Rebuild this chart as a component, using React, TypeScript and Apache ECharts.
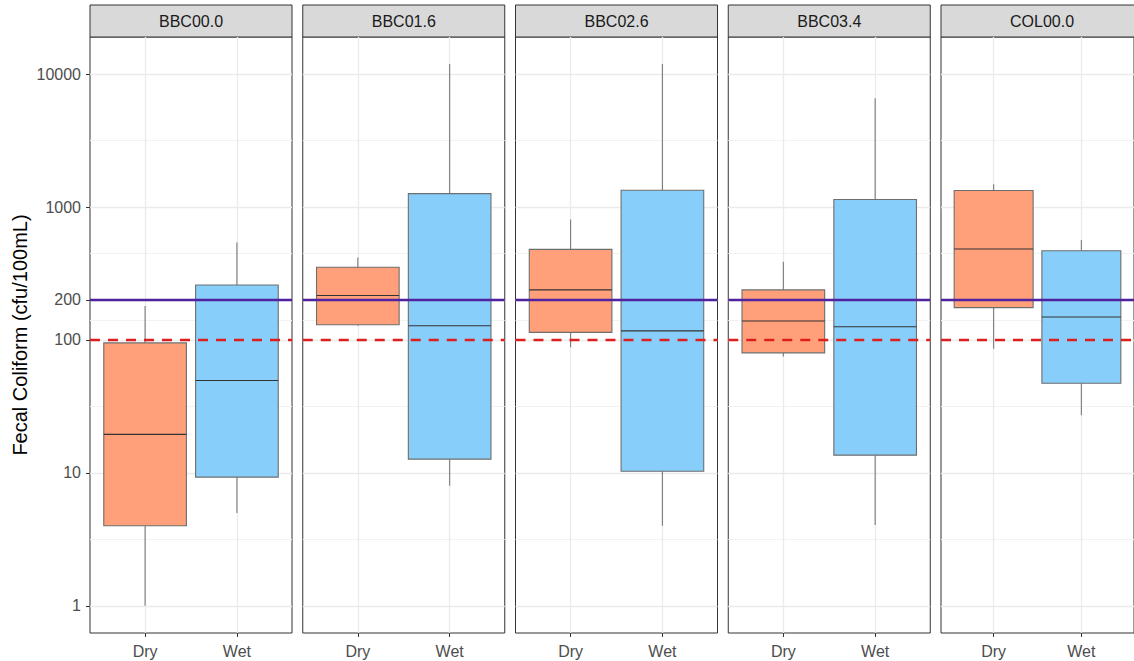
import React, { useEffect, useRef } from "react";
import * as echarts from "echarts";

// Sampling sites (one facet each) and seasons (x categories)
const sites = ["BBC00.0", "BBC01.6", "BBC02.6", "BBC03.4", "COL00.0"];
const seasons = ["Dry", "Wet"];

// Box statistics per site: [lower whisker, Q1, median, Q3, upper whisker] in cfu/100mL
const dryStats = [
  [1, 4, 19.5, 95, 180],
  [128, 130, 216, 352, 418],
  [88, 114, 238, 480, 806],
  [75, 80, 139, 238, 388],
  [86, 175, 483, 1330, 1483],
];
const wetStats = [
  [5, 9.3, 49.5, 259, 542],
  [8, 12.7, 128, 1262, 11900],
  [4, 10.3, 117, 1337, 11900],
  [4.05, 13.6, 125.6, 1138, 6580],
  [27.2, 47.2, 149, 469, 564],
];

// Log-axis breaks
const yTicks = [1, 10, 100, 200, 1000, 10000];
const yMinorTicks = [3.162, 31.62, 141.4, 447.2, 3162];
const yMin = 0.625;
const yMax = 19000;

// Reference standards
const geoMeanStandard = 200;
const singleSampleStandard = 100;

const seasonFill = ["#FFA07A", "#87CEFA"];
const FONT = "Liberation Sans, Arial, Helvetica, sans-serif";

const PANEL_LEFT = 90;
const PANEL_STEP = 212.75;
const PANEL_W = 202;
const PANEL_TOP = 37;
const PANEL_H = 596;
const STRIP_TOP = 5;
const STRIP_H = 32;

function buildOption() {
  const grids: any[] = [];
  const xAxes: any[] = [];
  const yAxes: any[] = [];
  const series: any[] = [];
  const graphics: any[] = [];

  sites.forEach((site, i) => {
    const left = PANEL_LEFT + i * PANEL_STEP;
    grids.push({
      left,
      top: PANEL_TOP,
      width: PANEL_W,
      height: PANEL_H,
      show: true,
      backgroundColor: "#ffffff",
      borderColor: "#333333",
      borderWidth: 1,
    });
    xAxes.push({
      type: "value",
      gridIndex: i,
      min: 0.4,
      max: 2.6,
      axisLine: { show: false },
      axisTick: {
        show: true,
        customValues: [1, 2],
        length: 4,
        lineStyle: { color: "#333333", width: 1 },
      },
      axisLabel: {
        show: true,
        customValues: [1, 2],
        formatter: (v: number) => seasons[Math.round(v) - 1] ?? "",
        color: "#4D4D4D",
        fontSize: 16,
        fontFamily: FONT,
        margin: 10,
      },
      splitLine: { show: true, lineStyle: { color: "#EBEBEB", width: 1.3 } },
    });
    // major axis (labels + major grid)
    yAxes.push({
      type: "log",
      logBase: 10,
      gridIndex: i,
      min: yMin,
      max: yMax,
      position: "left",
      name: i === 0 ? "Fecal Coliform (cfu/100mL)" : "",
      nameLocation: "middle",
      nameGap: 60,
      nameTextStyle: { color: "#000000", fontSize: 20, fontFamily: FONT },
      axisLine: { show: false },
      axisTick: {
        show: i === 0,
        customValues: yTicks,
        length: 4,
        lineStyle: { color: "#333333", width: 1 },
      },
      axisLabel: {
        show: i === 0,
        customValues: yTicks,
        formatter: (v: number) => String(Math.round(v)),
        color: "#4D4D4D",
        fontSize: 16,
        fontFamily: FONT,
        margin: 9,
      },
      splitLine: { show: true, lineStyle: { color: "#EBEBEB", width: 1.3 } },
    });
  });

  // minor grid axes
  sites.forEach((_, i) => {
    yAxes.push({
      type: "log",
      logBase: 10,
      gridIndex: i,
      min: yMin,
      max: yMax,
      position: "right",
      axisLine: { show: false },
      axisTick: { show: false, customValues: yMinorTicks },
      axisLabel: { show: false, customValues: yMinorTicks },
      splitLine: { show: true, lineStyle: { color: "#F2F2F2", width: 1 } },
    });
  });

  sites.forEach((site, i) => {
    const left = PANEL_LEFT + i * PANEL_STEP;
    const boxData = [
      [1, ...dryStats[i]],
      [2, ...wetStats[i]],
    ];
    series.push({
      type: "custom",
      name: site,
      xAxisIndex: i,
      yAxisIndex: i,
      data: boxData,
      encode: { x: 0, y: [1, 2, 3, 4, 5] },
      z: 3,
      renderItem: (params: any, api: any) => {
        const x = api.value(0);
        const lo = api.coord([x, api.value(1)]);
        const q1 = api.coord([x, api.value(2)]);
        const med = api.coord([x, api.value(3)]);
        const q3 = api.coord([x, api.value(4)]);
        const hi = api.coord([x, api.value(5)]);
        const xl = api.coord([x - 0.45, api.value(3)])[0];
        const xr = api.coord([x + 0.45, api.value(3)])[0];
        const cx = q1[0];
        const fill = seasonFill[params.dataIndex];
        return {
          type: "group",
          children: [
            {
              type: "line",
              shape: { x1: cx, y1: q3[1], x2: cx, y2: hi[1] },
              style: { stroke: "#7A7A7A", lineWidth: 1.1 },
            },
            {
              type: "line",
              shape: { x1: cx, y1: q1[1], x2: cx, y2: lo[1] },
              style: { stroke: "#7A7A7A", lineWidth: 1.1 },
            },
            {
              type: "rect",
              shape: { x: xl, y: q3[1], width: xr - xl, height: q1[1] - q3[1] },
              style: { fill, stroke: "#6E6E6E", lineWidth: 1.1 },
            },
            {
              type: "line",
              shape: { x1: xl, y1: med[1], x2: xr, y2: med[1] },
              style: { stroke: "#333333", lineWidth: 1.1 },
            },
          ],
        };
      },
    });
    series.push({
      type: "line",
      xAxisIndex: i,
      yAxisIndex: i,
      data: [
        [0.4, singleSampleStandard],
        [2.6, singleSampleStandard],
      ],
      symbol: "none",
      silent: true,
      z: 5,
      lineStyle: { color: "#DD1F1F", width: 2.4, type: [10, 8] },
    });
    series.push({
      type: "line",
      xAxisIndex: i,
      yAxisIndex: i,
      data: [
        [0.4, geoMeanStandard],
        [2.6, geoMeanStandard],
      ],
      symbol: "none",
      silent: true,
      z: 5,
      lineStyle: { color: "#4F22A0", width: 2.4 },
    });

    graphics.push({
      type: "rect",
      shape: { x: left, y: STRIP_TOP, width: PANEL_W, height: STRIP_H },
      style: { fill: "#D9D9D9", stroke: "#333333", lineWidth: 1 },
    });
    graphics.push({
      type: "text",
      x: left + PANEL_W / 2,
      y: STRIP_TOP + STRIP_H / 2,
      style: {
        text: site,
        fill: "#1A1A1A",
        fontSize: 16,
        fontFamily: FONT,
        align: "center",
        verticalAlign: "middle",
      },
    });
  });

  return {
    animation: false,
    backgroundColor: "#ffffff",
    textStyle: { fontFamily: FONT },
    grid: grids,
    xAxis: xAxes,
    yAxis: yAxes,
    series,
    graphic: graphics,
  };
}

export default function App() {
  const ref = useRef<HTMLDivElement | null>(null);

  useEffect(() => {
    document.body.style.margin = "0";
    if (!ref.current) return;
    const chart = echarts.init(ref.current, undefined, { renderer: "svg" });
    chart.setOption(buildOption());
    return () => chart.dispose();
  }, []);

  return <div ref={ref} style={{ width: 1134, height: 661 }} />;
}
